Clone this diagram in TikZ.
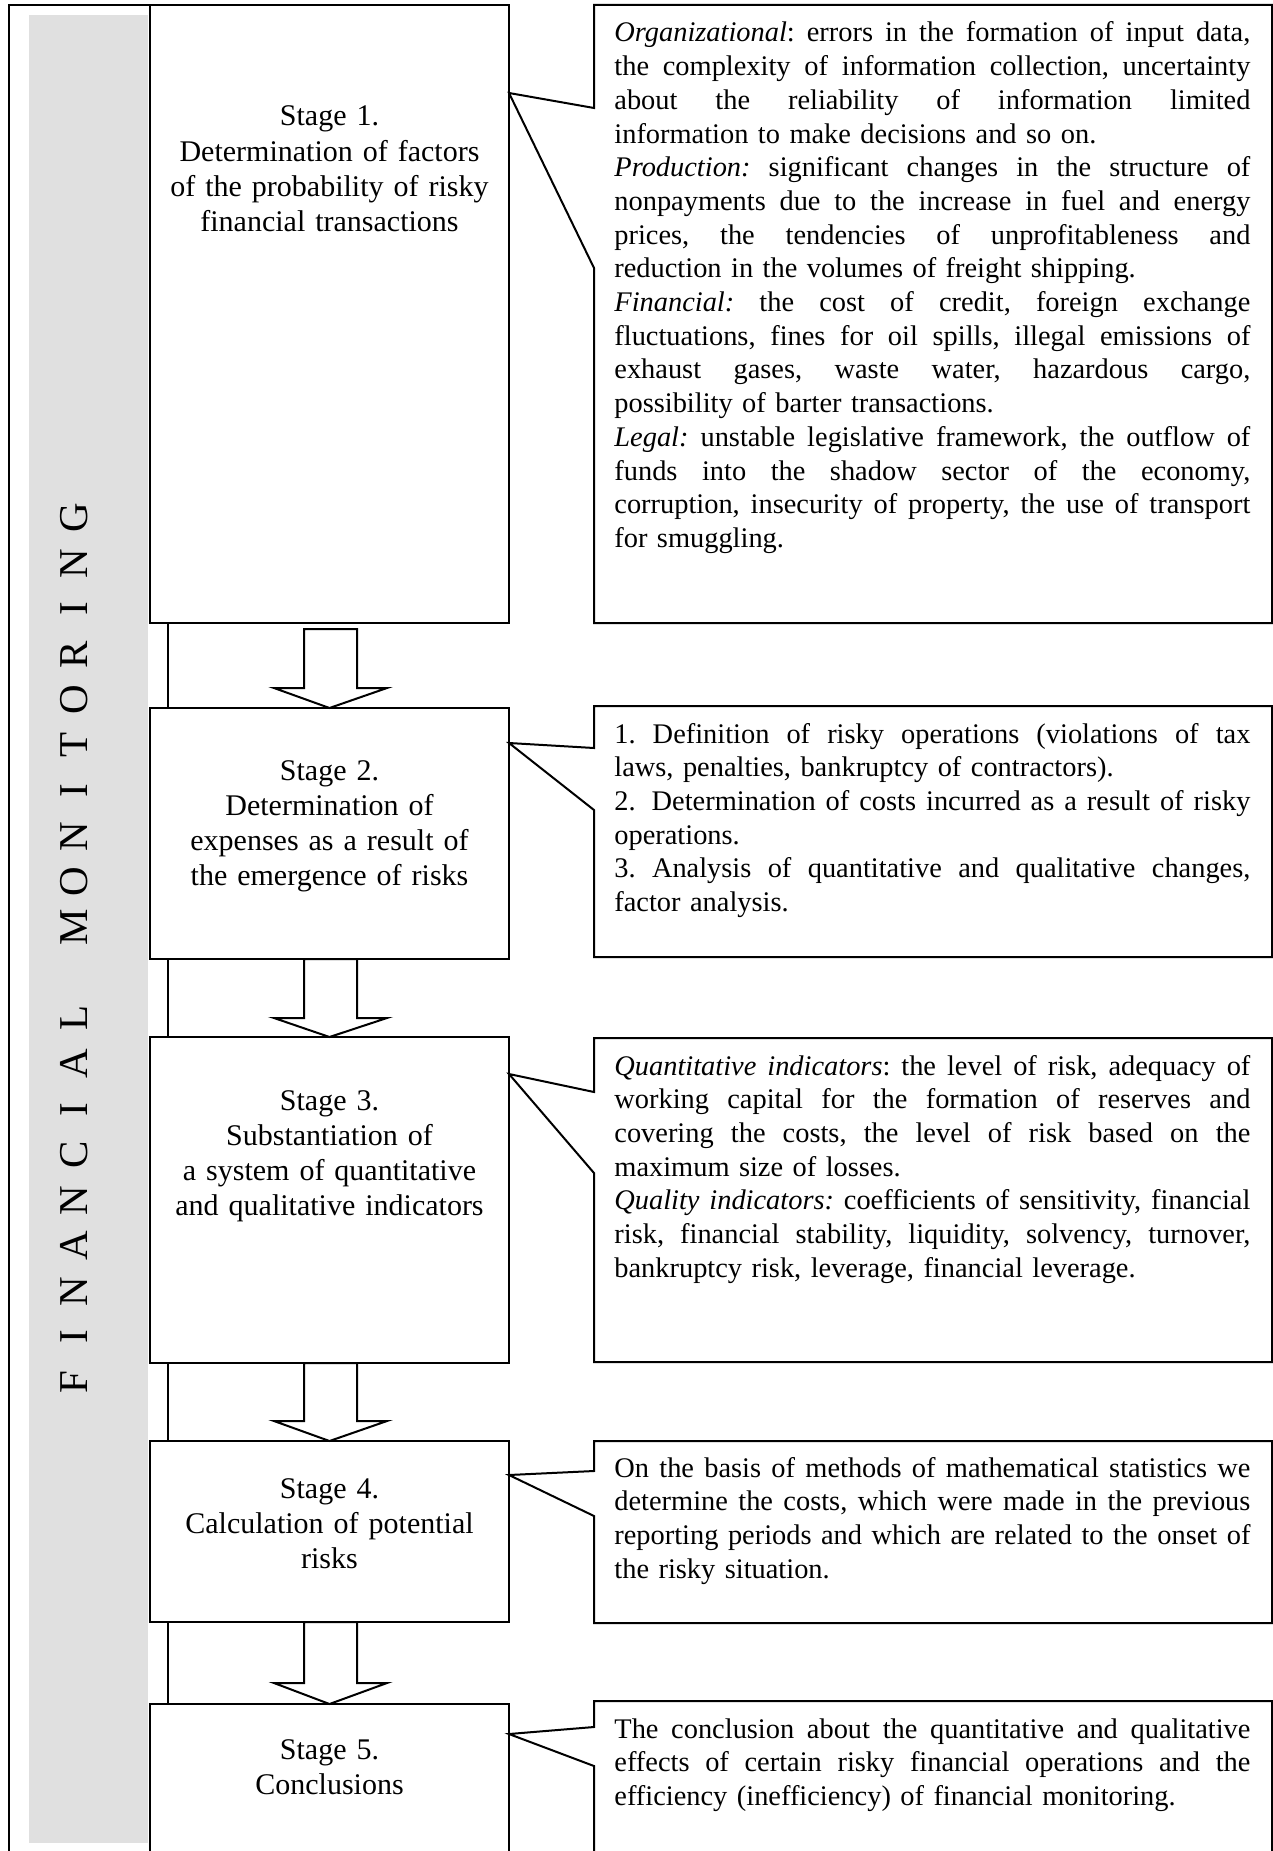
\documentclass[tikz,border=0pt]{standalone}
\usepackage{fontspec}
\setmainfont{Liberation Serif}
\definecolor{bandgray}{RGB}{224,224,224}
\newcommand\slotl[1]{\makebox[22.75pt]{#1}}
\newcommand\jl[1]{\hbox to 318pt{\frenchspacing\spaceskip=.25em plus 1fil\relax #1}\par}
\newcommand\lastl[1]{\hbox to 318pt{\frenchspacing #1\hfil}\par}
\tikzset{
  lw/.style={line width=1pt},
  stagebox/.style={draw, line width=1pt, fill=white, inner sep=0pt, outer sep=0pt, anchor=north west, minimum width=179.5pt},
  stagetext/.style={inner sep=0pt, text width=178pt, align=center, anchor=base, font=\fontsize{15pt}{17.6pt}\selectfont},
  infotext/.style={inner sep=0pt, text width=318pt, anchor=base west, font=\fontsize{14.2pt}{16.85pt}\selectfont},
  callout/.style={draw, line width=1pt, fill=white, line join=miter},
  blockarrow/.style={draw, line width=1pt, fill=white},
}
\begin{document}
\begin{tikzpicture}[x=0.5pt,y=-0.5pt]
\useasboundingbox (0,0) rectangle (1273,1851);
\clip (0,0) rectangle (1273,1851);
% outer frame and grey band
\draw[lw] (9,1900) -- (9,5) -- (168,5) -- (168,1900);
\fill[bandgray] (29,15) rectangle (148,1843);
\node[rotate=90, anchor=base, inner sep=0pt, font=\fontsize{20.5pt}{24pt}\selectfont] (title) at (87,950)
  {\slotl{F}\slotl{I}\slotl{N}\slotl{A}\slotl{N}\slotl{C}\slotl{I}\slotl{A}\slotl{L}\slotl{}\slotl{M}\slotl{O}\slotl{N}\slotl{I}\slotl{T}\slotl{O}\slotl{R}\slotl{I}\slotl{N}\slotl{G}};
% stage boxes
\node[stagebox, minimum height=309pt] (s1) at (150,5) {};
\node[stagebox, minimum height=125.5pt] (s2) at (150,708) {};
\node[stagebox, minimum height=163pt] (s3) at (150,1037) {};
\node[stagebox, minimum height=90.5pt] (s4) at (150,1441) {};
\node[stagebox, minimum height=130pt] (s5) at (150,1704) {};
\node[stagetext] (t1) at (329.5,126) {Stage 1.\\Determination of factors\\of the probability of risky\\financial transactions};
\node[stagetext] (t2) at (329.5,780) {Stage 2.\\Determination of\\expenses as a result of\\the emergence of risks};
\node[stagetext] (t3) at (329.5,1110) {Stage 3.\\Substantiation of\\a system of quantitative\\and qualitative indicators};
\node[stagetext] (t4) at (329.5,1498) {Stage 4.\\Calculation of potential\\risks};
\node[stagetext] (t5) at (329.5,1759) {Stage 5.\\Conclusions};
% block arrows
\draw[blockarrow] (304,629) -- (357,629) -- (357,688) -- (387,688) -- (s2.north) -- (274,688) -- (304,688) -- cycle;
\draw[blockarrow] (304,959) -- (357,959) -- (357,1018) -- (387,1018) -- (s3.north) -- (274,1018) -- (304,1018) -- cycle;
\draw[blockarrow] (304,1363) -- (357,1363) -- (357,1421) -- (387,1421) -- (s4.north) -- (274,1421) -- (304,1421) -- cycle;
\draw[blockarrow] (304,1622) -- (357,1622) -- (357,1683) -- (387,1683) -- (s5.north) -- (274,1683) -- (304,1683) -- cycle;
% callout boxes
\draw[callout] (594,5) -- (1272,5) -- (1272,623) -- (594,623) -- (594,268) -- (s1.east |- 0,93) -- (594,108) -- cycle;
\draw[callout] (594,706) -- (1272,706) -- (1272,957) -- (594,957) -- (594,810) -- (s2.east |- 0,743) -- (594,748) -- cycle;
\draw[callout] (594,1038) -- (1272,1038) -- (1272,1362) -- (594,1362) -- (594,1173) -- (s3.east |- 0,1074) -- (594,1092) -- cycle;
\draw[callout] (594,1441) -- (1272,1441) -- (1272,1623) -- (594,1623) -- (594,1516) -- (s4.east |- 0,1475) -- (594,1471) -- cycle;
\draw[callout] (594,1701) -- (1272,1701) -- (1272,1950) -- (594,1950) -- (594,1766) -- (s5.east |- 0,1734) -- (594,1727) -- cycle;
% callout texts
\node[infotext] (r1) at (614,42) {%
\jl{\textit{Organizational}: errors in the formation of input data,}
\jl{the complexity of information collection, uncertainty}
\jl{about the reliability of information limited}
\lastl{information to make decisions and so on.}
\jl{\textit{Production:} significant changes in the structure of}
\jl{nonpayments due to the increase in fuel and energy}
\jl{prices, the tendencies of unprofitableness and}
\lastl{reduction in the volumes of freight shipping.}
\jl{\textit{Financial:} the cost of credit, foreign exchange}
\jl{fluctuations, fines for oil spills, illegal emissions of}
\jl{exhaust gases, waste water, hazardous cargo,}
\lastl{possibility of barter transactions.}
\jl{\textit{Legal:} unstable legislative framework, the outflow of}
\jl{funds into the shadow sector of the economy,}
\jl{corruption, insecurity of property, the use of transport}
\lastl{for smuggling.}};
\node[infotext] (r2) at (614,743) {%
\jl{1. Definition of risky operations (violations of tax}
\lastl{laws, penalties, bankruptcy of contractors).}
\jl{2.\hspace{8pt}Determination of costs incurred as a result of risky}
\lastl{operations.}
\jl{3. Analysis of quantitative and qualitative changes,}
\lastl{factor analysis.}};
\node[infotext] (r3) at (614,1075) {%
\jl{\textit{Quantitative indicators}: the level of risk, adequacy of}
\jl{working capital for the formation of reserves and}
\jl{covering the costs, the level of risk based on the}
\lastl{maximum size of losses.}
\jl{\textit{Quality indicators:} coefficients of sensitivity, financial}
\jl{risk, financial stability, liquidity, solvency, turnover,}
\lastl{bankruptcy risk, leverage, financial leverage.}};
\node[infotext] (r4) at (614,1477) {%
\jl{On the basis of methods of mathematical statistics we}
\jl{determine the costs, which were made in the previous}
\jl{reporting periods and which are related to the onset of}
\lastl{the risky situation.}};
\node[infotext] (r5) at (614,1738) {%
\jl{The conclusion about the quantitative and qualitative}
\jl{effects of certain risky financial operations and the}
\lastl{efficiency (inefficiency) of financial monitoring.}};
\end{tikzpicture}
\end{document}
